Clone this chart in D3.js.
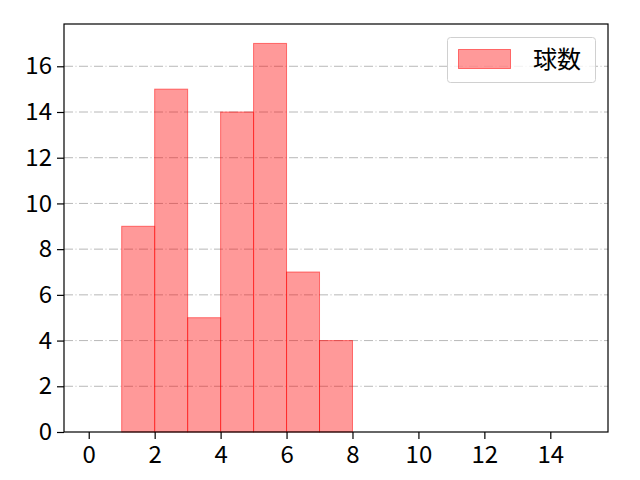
<!DOCTYPE html>
<html>
<head>
<meta charset="utf-8">
<script src="https://cdn.jsdelivr.net/npm/d3@7"></script>
<style>
  body { margin: 0; background: #fff; }
  text { font-family: "Noto Sans CJK JP", "DejaVu Sans", sans-serif; }
</style>
</head>
<body>
<script>
// データ
const binStarts = [1, 2, 3, 4, 5, 6, 7];
const binCounts = [9, 15, 5, 14, 17, 7, 4];
const xTicks = [0, 2, 4, 6, 8, 10, 12, 14];
const yTicks = [0, 2, 4, 6, 8, 10, 12, 14, 16];
const legendLabel = "球数";

const width = 640, height = 480;
const margin = { top: 24, right: 32, bottom: 48, left: 64 };

const svg = d3.select("body").append("svg")
  .attr("width", width).attr("height", height);

const x = d3.scaleLinear().domain([-0.75, 15.75])
  .range([margin.left, width - margin.right]);
const y = d3.scaleLinear().domain([0, 17.85])
  .range([height - margin.bottom, margin.top]);

// グリッド
svg.append("g").selectAll("line").data(yTicks.slice(1)).enter().append("line")
  .attr("x1", margin.left).attr("x2", width - margin.right)
  .attr("y1", d => y(d)).attr("y2", d => y(d))
  .attr("stroke", "#b0b0b0").attr("stroke-width", 0.9)
  .attr("stroke-dasharray", "9,2.5,1,2.5");

// ヒストグラム
svg.append("g").selectAll("rect").data(binStarts).enter().append("rect")
  .attr("x", d => x(d)).attr("width", d => x(d + 1) - x(d))
  .attr("y", (d, i) => y(binCounts[i]))
  .attr("height", (d, i) => y(0) - y(binCounts[i]))
  .attr("fill", "rgba(255,0,0,0.4)")
  .attr("stroke", "rgba(255,0,0,0.5)").attr("stroke-width", 1);

// 軸
const xAxis = svg.append("g")
  .attr("transform", `translate(0, ${height - margin.bottom})`)
  .call(d3.axisBottom(x).tickValues(xTicks).tickSize(7).tickPadding(7));
const yAxis = svg.append("g")
  .attr("transform", `translate(${margin.left}, 0)`)
  .call(d3.axisLeft(y).tickValues(yTicks).tickSize(7).tickPadding(5));
[xAxis, yAxis].forEach(a => {
  a.attr("font-size", null).attr("font-family", null);
  a.select(".domain").remove();
  a.selectAll("text").style("font-size", "24px").attr("fill", "#000");
  a.selectAll("line").attr("stroke", "#000").attr("stroke-width", 1.2);
});

// 枠
svg.append("rect")
  .attr("x", margin.left).attr("y", margin.top)
  .attr("width", width - margin.left - margin.right)
  .attr("height", height - margin.top - margin.bottom)
  .attr("fill", "none").attr("stroke", "#000").attr("stroke-width", 1.2);

// 凡例
const lg = svg.append("g");
lg.append("rect").attr("x", 447.5).attr("y", 37.5).attr("width", 148).attr("height", 45)
  .attr("rx", 3).attr("fill", "rgba(255,255,255,0.8)")
  .attr("stroke", "#d0d0d0").attr("stroke-width", 1);
lg.append("rect").attr("x", 458.5).attr("y", 49.5).attr("width", 52).attr("height", 19)
  .attr("fill", "rgba(255,0,0,0.4)").attr("stroke", "rgba(255,0,0,0.5)");
lg.append("text").attr("x", 533).attr("y", 68).style("font-size", "24px")
  .text(legendLabel);
</script>
</body>
</html>
